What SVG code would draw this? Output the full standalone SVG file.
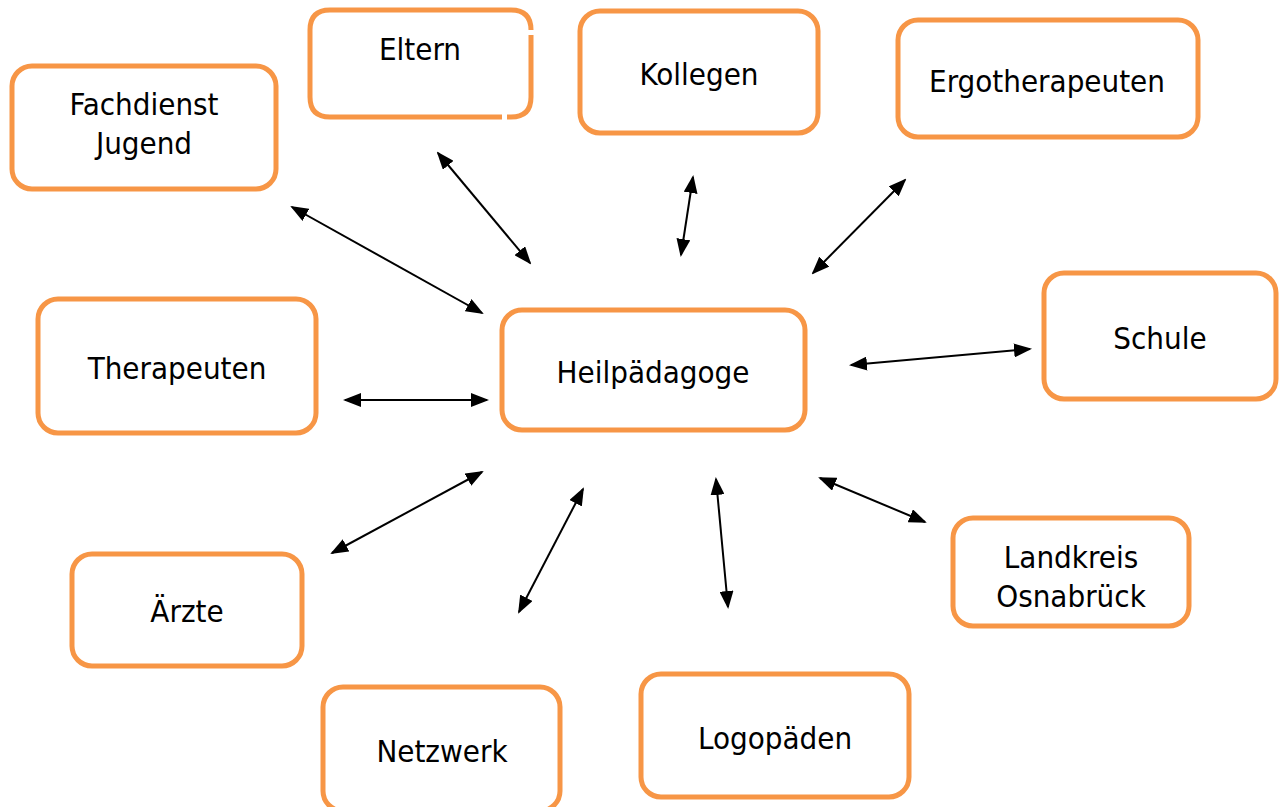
<svg xmlns="http://www.w3.org/2000/svg" width="1284" height="807" viewBox="0 0 1284 807">
<defs>
<style>
.box{fill:#fff;stroke:#F79646;stroke-width:5}
.t{font-family:"DejaVu Sans Condensed","DejaVu Sans",sans-serif;font-size:31px;fill:#000;text-anchor:middle}
.c{stroke:#000;stroke-width:2;fill:none;marker-start:url(#ah);marker-end:url(#ah)}
</style>
<marker id="ah" viewBox="0 0 18 14" refX="16" refY="7" markerWidth="18" markerHeight="14" markerUnits="userSpaceOnUse" orient="auto-start-reverse">
<path d="M0,0 L18,7 L0,14 Z" fill="#000"/>
</marker>
</defs>
<rect width="1284" height="807" fill="#fff"/>
<g id="connectors">
<line class="c" x1="292" y1="207" x2="482" y2="313"/>
<line class="c" x1="438" y1="153" x2="530" y2="263"/>
<line class="c" x1="693" y1="177" x2="681" y2="255"/>
<line class="c" x1="905" y1="180" x2="813" y2="273"/>
<line class="c" x1="851" y1="365" x2="1030" y2="349"/>
<line class="c" x1="345" y1="400" x2="487" y2="400"/>
<line class="c" x1="482" y1="472" x2="332" y2="553"/>
<line class="c" x1="583" y1="489" x2="519" y2="612"/>
<line class="c" x1="716" y1="479" x2="728" y2="607"/>
<line class="c" x1="820" y1="478" x2="925" y2="522"/>
</g>
<g id="fachdienst"><rect class="box" x="12" y="66" width="264" height="123" rx="20"/><text class="t" x="144" y="115">Fachdienst</text><text class="t" x="144" y="154">Jugend</text></g>
<g id="eltern"><path class="box" d="M502,117 L330,117 Q310,117 310,97 L310,30 Q310,10 330,10 L511,10 Q531,10 531,30 M531,35 L531,97 Q531,117 511,117 L507,117"/><text class="t" x="420" y="60">Eltern</text></g>
<g id="kollegen"><rect class="box" x="580" y="11" width="238" height="122" rx="20"/><text class="t" x="699" y="85">Kollegen</text></g>
<g id="ergotherapeuten"><rect class="box" x="898" y="20" width="300" height="117" rx="20"/><text class="t" x="1047" y="92">Ergotherapeuten</text></g>
<g id="therapeuten"><rect class="box" x="38" y="299" width="278" height="134" rx="20"/><text class="t" x="177" y="379">Therapeuten</text></g>
<g id="heilpaedagoge"><rect class="box" x="502" y="310" width="303" height="120" rx="20"/><text class="t" x="653" y="383">Heilpädagoge</text></g>
<g id="schule"><rect class="box" x="1044" y="273" width="232" height="126" rx="20"/><text class="t" x="1160" y="349">Schule</text></g>
<g id="aerzte"><rect class="box" x="72" y="554" width="230" height="112" rx="20"/><text class="t" x="187" y="622">Ärzte</text></g>
<g id="landkreis"><rect class="box" x="953" y="518" width="236" height="108" rx="20"/><text class="t" x="1071" y="568">Landkreis</text><text class="t" x="1071" y="607">Osnabrück</text></g>
<g id="netzwerk"><rect class="box" x="323" y="687" width="237" height="124" rx="20"/><text class="t" x="442" y="762">Netzwerk</text></g>
<g id="logopaeden"><rect class="box" x="641" y="674" width="268" height="123" rx="20"/><text class="t" x="775" y="749">Logopäden</text></g>
</svg>
